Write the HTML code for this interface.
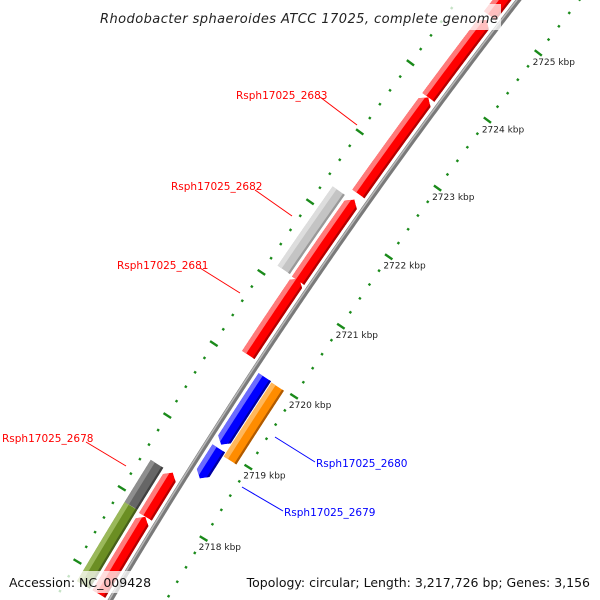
<!DOCTYPE html>
<html><head><meta charset="utf-8"><style>
html,body{margin:0;padding:0;background:#fff;overflow:hidden;width:600px;height:600px}
svg{display:block}
text{font-family:"DejaVu Sans","Liberation Sans",sans-serif}
</style></head><body>
<svg id="map" width="600" height="600" viewBox="0 0 600 600" xmlns="http://www.w3.org/2000/svg">
<defs id="defs"></defs>
<g id="backbone-layer"></g>
<g id="gene-layer"></g>
<g id="tick-layer"></g>
<g id="label-layer">
  <line x1="320" y1="97" x2="357" y2="125" stroke="#ff0000" stroke-width="1"/>
  <text x="236" y="99" font-size="10.5" fill="#ff0000">Rsph17025_2683</text>
  <line x1="255" y1="190" x2="292" y2="216" stroke="#ff0000" stroke-width="1"/>
  <text x="171" y="190" font-size="10.5" fill="#ff0000">Rsph17025_2682</text>
  <line x1="200" y1="268" x2="240" y2="293" stroke="#ff0000" stroke-width="1"/>
  <text x="117" y="269" font-size="10.5" fill="#ff0000">Rsph17025_2681</text>
  <line x1="86" y1="442" x2="126" y2="466" stroke="#ff0000" stroke-width="1"/>
  <text x="2" y="442" font-size="10.5" fill="#ff0000">Rsph17025_2678</text>
  <line x1="275" y1="437" x2="315" y2="462" stroke="#0000ff" stroke-width="1"/>
  <text x="316" y="467" font-size="10.5" fill="#0000ff">Rsph17025_2680</text>
  <line x1="242" y1="487" x2="283" y2="511" stroke="#0000ff" stroke-width="1"/>
  <text x="284" y="516" font-size="10.5" fill="#0000ff">Rsph17025_2679</text>
</g>
<rect x="97" y="4" width="404" height="26" fill="#fff" opacity="0.75"/>
<text x="100" y="23" font-size="13" font-style="italic" fill="#222" textLength="398" lengthAdjust="spacing">Rhodobacter sphaeroides ATCC 17025, complete genome</text>
<rect x="6" y="571" width="142" height="22" fill="#fff" opacity="0.75"/>
<text x="9" y="587" font-size="12.5" fill="#111">Accession: NC_009428</text>
<rect x="256" y="571" width="338" height="22" fill="#fff" opacity="0.75"/>
<text x="590" y="587" font-size="12.5" fill="#111" text-anchor="end">Topology: circular; Length: 3,217,726 bp; Genes: 3,156</text>
</svg>
<script>
// ---- data ----
var geneStarts = [2716.8, 2717.88, 2716.8, 2717.86, 2718.58, 2719.05, 2718.95, 2720.11, 2721.17, 2721.16, 2722.40, 2723.80, 2725.00, 2725.15];
var geneEnds   = [2717.88, 2718.46, 2717.86, 2718.47, 2719.00, 2720.00, 2719.99, 2721.19, 2722.30, 2722.32, 2723.80, 2724.94, 2726.40, 2726.40];
var geneStrands= [0, 0, 1, 1, -1, -1, 0, 1, 0, 1, 1, 1, 1, 0];
var geneRings  = ["outer2","outer2","outer1","outer1","inner1","inner1","inner2","outer1","outer2","outer1","outer1","outer1","outer1","outer2"];
var geneColors = ["olive","darkgray","red","red","blue","blue","orange","red","lightgray","red","red","red","red","cyan"];
var geneNames  = ["feature-2677","rsph17025-2678","gene-red-a","gene-red-b","rsph17025-2679","gene-blue-b","rsph17025-2680","rsph17025-2681","rsph17025-2682","gene-red-c","rsph17025-2683","gene-red-d","gene-red-e","gene-cyan"];
var tickMajorLabels = ["2718 kbp","2719 kbp","2720 kbp","2721 kbp","2722 kbp","2723 kbp","2724 kbp","2725 kbp"];
var tickMajorValues = [2718, 2719, 2720, 2721, 2722, 2723, 2724, 2725];
var tickRangeStart = 2716.4, tickRangeEnd = 2726.4, tickMinorStep = 0.2;

// ---- geometry ----
var CX = 5077, CY = 3539, R = 5771, PX_PER_KBP = 85;
var TH0 = Math.atan2(370 - CY, 254 - CX);
var ringOff = {outer2: 31, outer1: 13, inner1: -13, inner2: -29};
var HALF = 7.5;
var palette = {
  red: ["#ff0000", "#ff7a7a", "#b30000"],
  blue: ["#0000ff", "#6b6bff", "#0000a0"],
  orange: ["#ff8c00", "#ffb75a", "#b05a00"],
  olive: ["#6b8e23", "#9ab85a", "#46601a"],
  darkgray: ["#666666", "#8e8e8e", "#404040"],
  lightgray: ["#c4c4c4", "#dddddd", "#999999"],
  cyan: ["#19c0c0", "#7fe0e0", "#0d8a8a"]
};
function ang(k){ return TH0 + (k - 2720) * PX_PER_KBP / R; }
function pt(k, off){ var t = ang(k), r = R + off; return [CX + r*Math.cos(t), CY + r*Math.sin(t)]; }
function arcPts(a, b, off){ var out=[], n=Math.max(2, Math.ceil(Math.abs(b-a)/0.02)); for(var i=0;i<=n;i++){ out.push(pt(a+(b-a)*i/n, off)); } return out; }
function fmt(p){ return p.map(function(q){return q[0].toFixed(2)+","+q[1].toFixed(2);}).join(" "); }
var NS = "http://www.w3.org/2000/svg";
function mk(tag, attrs, parent){ var e=document.createElementNS(NS,tag); for(var k in attrs) e.setAttribute(k, attrs[k]); parent.appendChild(e); return e; }

// backbone
var bb = document.getElementById("backbone-layer");
var bbPath = "M" + fmt(arcPts(2716.2, 2726.6, 0)).split(" ").join(" L");
var b1 = mk("path", {d: bbPath, fill: "none", stroke: "#7a7a7a", "stroke-width": 5}, bb);


var b2p = "M" + fmt(arcPts(2716.2, 2726.6, 1.2)).split(" ").join(" L");
var b2 = mk("path", {d: b2p, fill: "none", stroke: "#b8b8b8", "stroke-width": 1.5}, bb);



// genes
var defs = document.getElementById("defs");
var gl = document.getElementById("gene-layer");
var HEAD = 0.075;
for (var i = 0; i < geneStarts.length; i++) {
  var a = geneStarts[i], b = geneEnds[i], s = geneStrands[i], off = ringOff[geneRings[i]];
  var ro = off + HALF, ri = off - HALF, pts;
  if (s === 1) {
    var be = b - HEAD;
    pts = arcPts(a, be, ro).concat([pt(b, off)]).concat(arcPts(be, a, ri));
  } else if (s === -1) {
    var bs = a + HEAD;
    pts = [pt(a, off)].concat(arcPts(bs, b, ro)).concat(arcPts(b, bs, ri));
  } else {
    pts = arcPts(a, b, ro).concat(arcPts(b, a, ri));
  }
  var col = palette[geneColors[i]];
  var cp = mk("clipPath", {id: "clip" + i}, defs);
  mk("polygon", {points: fmt(pts)}, cp);
  var g = mk("g", {"clip-path": "url(#clip" + i + ")"}, gl);
  
  
  mk("polygon", {points: fmt(pts), fill: col[0]}, g);
  mk("path", {d: "M" + fmt(arcPts(a - 0.1, b + 0.1, ro - 2.5)).split(" ").join(" L"), fill: "none", stroke: col[1], "stroke-width": 5}, g);
  mk("path", {d: "M" + fmt(arcPts(a - 0.1, b + 0.1, ri + 1)).split(" ").join(" L"), fill: "none", stroke: col[2], "stroke-width": 2.5}, g);
}

// ticks
var tl = document.getElementById("tick-layer");
var nT = Math.round((tickRangeEnd - tickRangeStart) / tickMinorStep);
for (var j = 0; j <= nT; j++) {
  var k = tickRangeStart + j * tickMinorStep;
  var major = Math.abs(k - Math.round(k)) < 1e-6;
  var len = major ? 4.5 : 1.2;
  [48, -48].forEach(function(o){
    var p1 = pt(k, o - len), p2 = pt(k, o + len);
    var ln = mk("line", {x1: p1[0], y1: p1[1], x2: p2[0], y2: p2[1], stroke: "#1a8a1a", "stroke-width": 2.4}, tl);
    
    
  });
}
for (var m = 0; m < tickMajorValues.length; m++) {
  var lp = pt(tickMajorValues[m], -60);
  var tx = mk("text", {x: lp[0] + 6, y: lp[1] + 5, "font-size": 9, fill: "#222", "text-anchor": "middle"}, tl);
  tx.textContent = tickMajorLabels[m];
  
  
}
</script>
</body></html>
